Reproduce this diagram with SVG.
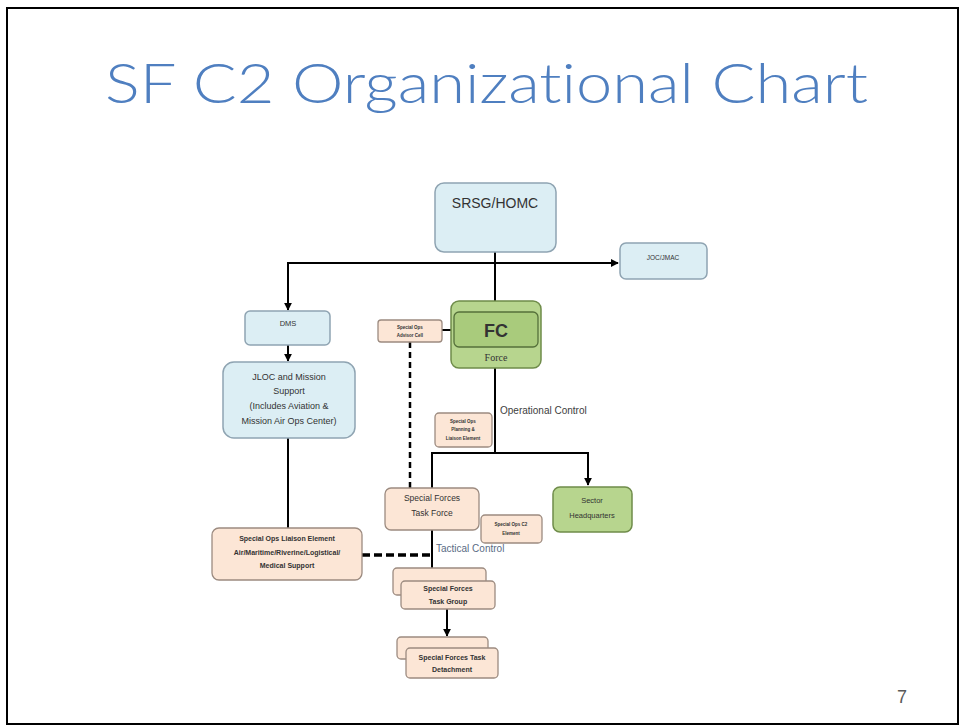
<svg xmlns="http://www.w3.org/2000/svg" width="959" height="725" viewBox="0 0 959 725">
<style>
.blue{fill:#DCEEF4;stroke:#8FA4B2;stroke-width:1.5}
.peach{fill:#FCE6D6;stroke:#9C8B80;stroke-width:1.3}
.green{fill:#B7D58E;stroke:#6F8C4A;stroke-width:1.5}
.t{font-family:"Liberation Sans",Arial,sans-serif;fill:#333;text-anchor:middle}
.lbl{font-family:"Liberation Sans",Arial,sans-serif;font-size:10px;text-anchor:start}
.b{font-weight:bold}
.ln{stroke:#000;stroke-width:2;fill:none}
</style>
<defs>
<marker id="ah" viewBox="0 0 10 10" refX="9" refY="5" markerWidth="4" markerHeight="4" orient="auto"><path d="M0,0L10,5L0,10z" fill="#000"/></marker>
</defs>
<rect x="7" y="8" width="951" height="716" fill="#fff" stroke="#000" stroke-width="2"/>
<text x="105" y="103" font-family="Lato,'Open Sans',sans-serif" font-weight="300" font-size="56" fill="#4F7FC0" textLength="763" lengthAdjust="spacingAndGlyphs" style="font-variant-ligatures:none">SF C2 Organizational Chart</text>

<g id="connectors">
<line class="ln" x1="495" y1="252" x2="495" y2="302"/>
<line class="ln" x1="288" y1="263" x2="618" y2="263" marker-end="url(#ah)"/>
<line class="ln" x1="288" y1="262" x2="288" y2="310" marker-end="url(#ah)"/>
<line class="ln" x1="288" y1="345" x2="288" y2="361" marker-end="url(#ah)"/>
<line class="ln" x1="288" y1="438" x2="288" y2="528"/>
<line class="ln" x1="442" y1="330" x2="452" y2="330"/>
<line x1="410" y1="342" x2="410" y2="488" stroke="#000" stroke-width="2.5" stroke-dasharray="6,4"/>
<line class="ln" x1="495" y1="368" x2="495" y2="453"/>
<polyline class="ln" points="432,488 432,453 588,453 588,485" marker-end="url(#ah)"/>
<line class="ln" x1="432" y1="530" x2="432" y2="568"/>
<line x1="362" y1="555" x2="432" y2="555" stroke="#000" stroke-width="3.5" stroke-dasharray="8,4"/>
<line class="ln" x1="447" y1="609" x2="447" y2="636" marker-end="url(#ah)"/>
</g>

<g id="srsg"><rect class="blue" x="435" y="183" width="121" height="69" rx="9"/><text class="t" x="495" y="208" font-size="14">SRSG/HOMC</text></g>
<g id="jocjmac"><rect class="blue" x="620" y="243" width="87" height="36" rx="6"/><text class="t" x="663" y="260" font-size="6.5">JOC/JMAC</text></g>
<g id="dms"><rect class="blue" x="245" y="311" width="85" height="34" rx="5"/><text class="t" x="288" y="326" font-size="7.5">DMS</text></g>
<g id="jloc"><rect class="blue" x="223" y="362" width="132" height="76" rx="11"/>
<text class="t" x="289" y="380" font-size="9">JLOC and Mission</text>
<text class="t" x="289" y="394" font-size="9">Support</text>
<text class="t" x="289" y="409" font-size="9">(Includes Aviation &amp;</text>
<text class="t" x="289" y="424" font-size="9">Mission Air Ops Center)</text></g>
<g id="liaison"><rect class="peach" x="212" y="528" width="150" height="52" rx="7"/>
<text class="t b" x="287" y="541" font-size="7">Special Ops Liaison Element</text>
<text class="t b" x="287" y="555" font-size="7">Air/Maritime/Riverine/Logistical/</text>
<text class="t b" x="287" y="568" font-size="7">Medical Support</text></g>
<g id="fc"><rect class="green" x="451" y="301" width="90" height="67" rx="8"/>
<rect x="454" y="312" width="84" height="35" rx="5" fill="#A9CB7C" stroke="#55703A" stroke-width="1.3"/>
<text class="t b" x="496" y="337" font-size="18" fill="#2a3a20">FC</text>
<text x="496" y="361" font-family="'Liberation Serif',serif" font-size="10" fill="#333" text-anchor="middle">Force</text></g>
<g id="advisor"><rect class="peach" x="378" y="320" width="64" height="22" rx="3"/>
<text class="t b" x="410" y="329" font-size="4.5">Special Ops</text>
<text class="t b" x="410" y="337" font-size="4.5">Advisor Cell</text></g>
<g id="planning"><rect class="peach" x="435" y="413" width="57" height="34" rx="4"/>
<text class="t b" x="463" y="423" font-size="4.5">Special Ops</text>
<text class="t b" x="463" y="431" font-size="4.5">Planning &amp;</text>
<text class="t b" x="463" y="440" font-size="4.5">Liaison Element</text></g>
<text class="lbl" x="500" y="414" fill="#404040">Operational Control</text>
<g id="sector"><rect class="green" x="553" y="487" width="79" height="45" rx="7"/>
<text class="t" x="592" y="503" font-size="7.5">Sector</text>
<text class="t" x="592" y="518" font-size="7.5">Headquarters</text></g>
<g id="sftf"><rect class="peach" x="385" y="488" width="94" height="42" rx="6"/>
<text class="t" x="432" y="501" font-size="8.5">Special Forces</text>
<text class="t" x="432" y="516" font-size="8.5">Task Force</text></g>
<g id="c2el"><rect class="peach" x="481" y="515" width="61" height="28" rx="4"/>
<text class="t b" x="511" y="526" font-size="4.5">Special Ops C2</text>
<text class="t b" x="511" y="535" font-size="4.5">Element</text></g>
<text class="lbl" x="436" y="552" fill="#5A6B84">Tactical Control</text>
<g id="sftg"><rect class="peach" x="393" y="568" width="93" height="27" rx="4"/>
<rect class="peach" x="401" y="581" width="94" height="28" rx="4"/>
<text class="t b" x="448" y="591" font-size="7">Special Forces</text>
<text class="t b" x="448" y="604" font-size="7">Task Group</text></g>
<g id="sftd"><rect class="peach" x="397" y="637" width="91" height="22" rx="4"/>
<rect class="peach" x="406" y="648" width="92" height="30" rx="4"/>
<text class="t b" x="452" y="660" font-size="7">Special Forces Task</text>
<text class="t b" x="452" y="672" font-size="7">Detachment</text></g>
<text x="902" y="703" font-family="'Liberation Sans',Arial,sans-serif" font-size="18" fill="#595959" text-anchor="middle">7</text>
</svg>
